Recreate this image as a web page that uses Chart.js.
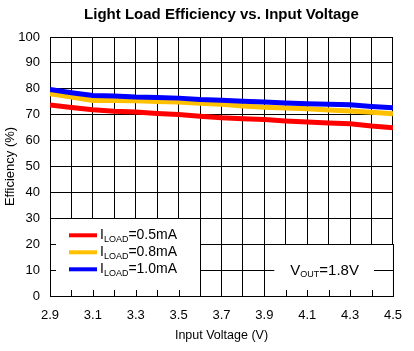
<!DOCTYPE html>
<html lang="en">
<head>
  <meta charset="UTF-8">
  <title>Light Load Efficiency vs. Input Voltage</title>
  <script src="https://cdn.jsdelivr.net/npm/chart.js"></script>
  <style>
    * { box-sizing: border-box; }
    body { margin: 0; padding: 0; background: #ffffff; }
    #wrap { width: 414px; height: 351px; }
  </style>
</head>
<body>
  <div id="wrap">
    <canvas id="grafico" width="414" height="351"></canvas>
  </div>

  <script>
    // data
    const voltages = [2.9, 3.0, 3.1, 3.2, 3.3, 3.4, 3.5, 3.6, 3.7, 3.8, 3.9, 4.0, 4.1, 4.2, 4.3, 4.4, 4.5];
    const eff05mA = [73.8, 72.8, 71.9, 71.3, 71.0, 70.5, 70.1, 69.4, 68.8, 68.4, 68.1, 67.6, 67.2, 66.8, 66.5, 65.6, 65.0];
    const eff08mA = [78.1, 76.8, 75.5, 75.5, 75.4, 75.1, 74.9, 74.4, 74.0, 73.4, 72.9, 72.6, 72.3, 71.8, 71.4, 70.9, 70.4];
    const eff10mA = [79.7, 78.5, 77.4, 77.2, 76.8, 76.6, 76.4, 75.9, 75.6, 75.2, 74.9, 74.5, 74.2, 74.0, 73.8, 73.2, 72.7];
    const xTickLabels = ['2.9', '3.1', '3.3', '3.5', '3.7', '3.9', '4.1', '4.3', '4.5'];
    const loadLabels = ['0.5mA', '0.8mA', '1.0mA'];
    const loadColors = ['#ff0000', '#ffc000', '#0000ff'];
    const voutLabel = '1.8V';
    const chartTitle = 'Light Load Efficiency vs. Input Voltage';

    const FONT = 'Arial, "Liberation Sans", sans-serif';

    function pts(vals) {
      return voltages.map((v, i) => ({ x: v, y: vals[i] }));
    }

    // title centred over the plot, white boxes (legend + Vout note) with inward ticks
    const boxesPlugin = {
      id: 'boxes',
      afterDatasetsDraw(chart) {
        const { ctx, chartArea, scales: { x, y } } = chart;
        const bottom = y.getPixelForValue(0);

        ctx.save();
        ctx.fillStyle = '#000';
        ctx.font = 'bold 15px ' + FONT;
        ctx.textAlign = 'center';
        ctx.textBaseline = 'middle';
        ctx.fillText(chartTitle, (chartArea.left + chartArea.right) / 2, 15);
        ctx.restore();

        function box(x0, x1, yTop) {
          const l = x.getPixelForValue(x0), r = x.getPixelForValue(x1), t = y.getPixelForValue(yTop);
          ctx.save();
          ctx.fillStyle = '#fff';
          ctx.fillRect(l, t, r - l, bottom - t);
          ctx.strokeStyle = '#000';
          ctx.lineWidth = 1;
          ctx.strokeRect(Math.round(l) + 0.5, Math.round(t) + 0.5, Math.round(r - l), Math.round(bottom - t));
          // ticks at bottom
          ctx.beginPath();
          for (let i = 0; i < voltages.length; i++) {
            const v = voltages[i];
            if (v > x0 + 0.01 && v < x1 - 0.01) {
              const px = Math.round(x.getPixelForValue(v)) + 0.5;
              ctx.moveTo(px, bottom);
              ctx.lineTo(px, bottom - 6);
            }
          }
          ctx.stroke();
          ctx.restore();
          return { l, r, t };
        }

        // legend
        const lg = box(2.9, 3.6, 30);
        ctx.save();
        ctx.strokeStyle = '#000';
        ctx.beginPath();
        [10, 20].forEach(v => {
          const py = Math.round(y.getPixelForValue(v)) + 0.5;
          ctx.moveTo(lg.l, py);
          ctx.lineTo(lg.l + 6, py);
        });
        ctx.stroke();
        ctx.textBaseline = 'middle';
        loadLabels.forEach((lab, i) => {
          const cy = lg.t + 17 + i * 17;
          ctx.strokeStyle = loadColors[i];
          ctx.lineWidth = 4;
          ctx.beginPath();
          ctx.moveTo(lg.l + 19, cy);
          ctx.lineTo(lg.l + 47, cy);
          ctx.stroke();
          let tx = lg.l + 50;
          ctx.fillStyle = '#000';
          ctx.font = '14px ' + FONT;
          ctx.fillText('I', tx, cy);
          tx += ctx.measureText('I').width;
          ctx.font = '9px ' + FONT;
          ctx.fillText('LOAD', tx, cy + 4);
          tx += ctx.measureText('LOAD').width;
          ctx.font = '14px ' + FONT;
          ctx.fillText('=' + lab, tx, cy);
        });
        ctx.restore();

        // Vout note
        const vb = box(3.9, 4.5, 20);
        ctx.save();
        const py10 = Math.round(y.getPixelForValue(10)) + 0.5;
        ctx.strokeStyle = '#000';
        ctx.beginPath();
        ctx.moveTo(vb.l, py10); ctx.lineTo(vb.l + 10, py10);
        ctx.moveTo(vb.r - 19, py10); ctx.lineTo(vb.r, py10);
        ctx.stroke();
        ctx.fillStyle = '#000';
        ctx.textBaseline = 'middle';
        let tx = vb.l + 26;
        const cy = py10;
        ctx.font = '15px ' + FONT;
        ctx.fillText('V', tx, cy);
        tx += ctx.measureText('V').width;
        ctx.font = '9px ' + FONT;
        ctx.fillText('OUT', tx, cy + 4);
        tx += ctx.measureText('OUT').width;
        ctx.font = '15px ' + FONT;
        ctx.fillText('=' + voutLabel, tx, cy);
        ctx.restore();
      }
    };

    new Chart(document.getElementById('grafico'), {
      type: 'line',
      data: {
        datasets: [
          { label: 'ILOAD=' + loadLabels[0], data: pts(eff05mA), borderColor: loadColors[0], borderWidth: 5, order: 2 },
          { label: 'ILOAD=' + loadLabels[1], data: pts(eff08mA), borderColor: loadColors[1], borderWidth: 5, order: 1 },
          { label: 'ILOAD=' + loadLabels[2], data: pts(eff10mA), borderColor: loadColors[2], borderWidth: 5, order: 0 }
        ]
      },
      options: {
        responsive: false,
        animation: false,
        layout: { padding: { left: 0, right: 18, top: 37, bottom: 0 } },
        elements: {
          point: { radius: 0 },
          line: { tension: 0, fill: false, borderCapStyle: 'butt' }
        },
        plugins: {
          legend: { display: false },
          tooltip: { enabled: false },
          title: { display: false }
        },
        scales: {
          x: {
            type: 'linear',
            min: 2.9,
            max: 4.5,
            afterFit(s) { s.height = 55; },
            ticks: {
              stepSize: 0.1,
              autoSkip: false,
              maxRotation: 0,
              padding: 12,
              color: '#000',
              font: { family: FONT, size: 13 },
              callback: (v, i) => (i % 2 === 0 ? xTickLabels[i / 2] : '')
            },
            grid: { color: '#000', lineWidth: 1, drawTicks: false },
            border: { color: '#000', width: 1 },
            title: {
              display: true,
              text: 'Input Voltage (V)',
              color: '#000',
              font: { family: FONT, size: 12.5 },
              padding: { top: 0, bottom: 8 }
            }
          },
          y: {
            min: 0,
            max: 100,
            afterFit(s) { s.width = 50; },
            ticks: {
              stepSize: 10,
              padding: 10,
              color: '#000',
              font: { family: FONT, size: 13 }
            },
            grid: { color: '#000', lineWidth: 1, drawTicks: false },
            border: { color: '#000', width: 1 },
            title: {
              display: true,
              text: 'Efficiency (%)',
              color: '#000',
              font: { family: FONT, size: 13 },
              padding: { top: 3, bottom: 0 }
            }
          }
        }
      },
      plugins: [boxesPlugin]
    });
  </script>
</body>
</html>
